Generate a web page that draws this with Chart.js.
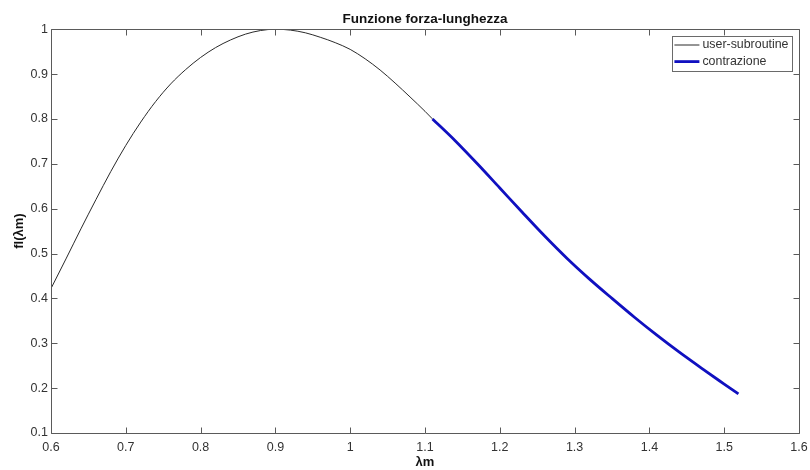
<!DOCTYPE html>
<html>
<head>
<meta charset="utf-8">
<title>Funzione forza-lunghezza</title>
<script src="https://cdn.jsdelivr.net/npm/chart.js@4.4.1/dist/chart.umd.min.js"></script>
<style>
  html, body { margin: 0; padding: 0; background: #fff; }
  #wrap { width: 810px; height: 470px; }
</style>
</head>
<body>
<div id="wrap"><canvas id="flChart" width="810" height="470"></canvas></div>
<script>
// curve
const lambdaUser = [0.60, 0.62, 0.64, 0.66, 0.68, 0.70, 0.72, 0.74, 0.76, 0.78, 0.80, 0.82, 0.84, 0.86, 0.88, 0.90,
                    0.92, 0.94, 0.96, 0.98, 1.00, 1.02, 1.04, 1.06, 1.08, 1.10, 1.11];
const flUser = [0.422, 0.488, 0.555, 0.620, 0.683, 0.741, 0.793, 0.839, 0.878, 0.910, 0.937, 0.959, 0.976, 0.989, 0.997, 1.000,
                0.998, 0.992, 0.982, 0.970, 0.955, 0.934, 0.909, 0.880, 0.849, 0.817, 0.800];

const lambdaContr = [1.11, 1.14, 1.17, 1.20, 1.23, 1.26, 1.29, 1.32, 1.35, 1.38, 1.41, 1.44, 1.47, 1.50, 1.519];
const flContr = [0.800, 0.752, 0.700, 0.646, 0.592, 0.539, 0.489, 0.443, 0.400, 0.358, 0.318, 0.280, 0.244, 0.209, 0.187];

const seriesLabels = ['user-subroutine', 'contrazione'];
const xTicks = [0.6, 0.7, 0.8, 0.9, 1.0, 1.1, 1.2, 1.3, 1.4, 1.5, 1.6];
const yTicks = [0.1, 0.2, 0.3, 0.4, 0.5, 0.6, 0.7, 0.8, 0.9, 1.0];

const FONT = "'Liberation Sans', Arial, Helvetica, sans-serif";
const AXIS_COLOR = '#5a5a5a';
const TEXT_COLOR = '#333333';

Chart.defaults.font.family = FONT;
Chart.defaults.color = TEXT_COLOR;

const toPoints = (xs, ys) => xs.map((x, i) => ({ x: x, y: ys[i] }));
const fmt = v => String(+Number(v).toFixed(1)); // 1.0 -> "1" like matlab

// box + inward ticks on all four sides
const matlabAxes = {
    id: 'matlabAxes',
    afterDatasetsDraw(chart) {
        const { ctx, chartArea: a, scales } = chart;
        const L = Math.round(a.left) + 0.5, R = Math.round(a.right) + 0.5;
        const T = Math.round(a.top) + 0.5, B = Math.round(a.bottom) + 0.5;
        const len = 6;
        ctx.save();
        ctx.strokeStyle = AXIS_COLOR;
        ctx.lineWidth = 1;
        ctx.beginPath();
        ctx.rect(L, T, R - L, B - T);
        xTicks.forEach(v => {
            const px = Math.round(scales.x.getPixelForValue(v)) + 0.5;
            ctx.moveTo(px, B); ctx.lineTo(px, B - len);
            ctx.moveTo(px, T); ctx.lineTo(px, T + len);
        });
        yTicks.forEach(v => {
            const py = Math.round(scales.y.getPixelForValue(v)) + 0.5;
            ctx.moveTo(L, py); ctx.lineTo(L + len, py);
            ctx.moveTo(R, py); ctx.lineTo(R - len, py);
        });
        ctx.stroke();
        ctx.restore();
    }
};

// legend box in the upper right corner of the plot
const cornerLegend = {
    id: 'cornerLegend',
    afterDraw(chart) {
        const { ctx, chartArea: a } = chart;
        const sets = chart.data.datasets;
        ctx.save();
        ctx.font = '12.4px ' + FONT;
        const textW = Math.max(...sets.map(d => ctx.measureText(d.label).width));
        const sample = 25, rowH = 16.6;
        const w = 2 + sample + 3 + textW + 4;
        const h = rowH * sets.length + 2;
        const right = a.right - 6.5, top = a.top + 6.5;
        const left = right - w;
        ctx.fillStyle = '#fff';
        ctx.fillRect(left, top, w, h);
        ctx.strokeStyle = '#6a6a6a';
        ctx.lineWidth = 1;
        ctx.strokeRect(Math.round(left) + 0.5, Math.round(top) + 0.5, Math.round(w), Math.round(h));
        sets.forEach((d, i) => {
            const cy = top + 1 + rowH * (i + 0.5);
            ctx.strokeStyle = d.borderColor;
            ctx.lineWidth = d.borderWidth;
            ctx.beginPath();
            ctx.moveTo(left + 2, cy);
            ctx.lineTo(left + 2 + sample, cy);
            ctx.stroke();
            ctx.fillStyle = TEXT_COLOR;
            ctx.textBaseline = 'middle';
            ctx.textAlign = 'left';
            ctx.fillText(d.label, left + 2 + sample + 3, cy);
        });
        ctx.restore();
    }
};

new Chart(document.getElementById('flChart'), {
    type: 'scatter',
    data: {
        datasets: [
            {
                label: seriesLabels[0],
                data: toPoints(lambdaUser, flUser),
                showLine: true,
                borderColor: '#2a2a2a',
                borderWidth: 1,
                pointRadius: 0,
                cubicInterpolationMode: 'monotone'
            },
            {
                label: seriesLabels[1],
                data: toPoints(lambdaContr, flContr),
                showLine: true,
                borderColor: '#1010c0',
                borderWidth: 2.8,
                pointRadius: 0,
                cubicInterpolationMode: 'monotone'
            }
        ]
    },
    options: {
        responsive: false,
        animation: false,
        layout: { padding: { top: 0, right: 11, bottom: 0, left: 0 } },
        plugins: {
            legend: { display: false },
            tooltip: { enabled: false },
            title: {
                display: true,
                text: 'Funzione forza-lunghezza',
                fullSize: false,
                color: '#111',
                font: { size: 13.5, weight: 'bold' },
                padding: { top: 11, bottom: 2 }
            }
        },
        scales: {
            x: {
                type: 'linear',
                min: 0.6,
                max: 1.6,
                afterBuildTicks: s => { s.ticks = xTicks.map(v => ({ value: v })); },
                afterFit: s => { s.height = 37; s.paddingLeft = 0; s.paddingRight = 0; },
                grid: { display: false, drawTicks: false },
                border: { display: false },
                ticks: { font: { size: 12.5 }, padding: 7, maxRotation: 0, autoSkip: false, callback: fmt },
                title: { display: true, text: 'λm', color: '#111', font: { size: 13, weight: 'bold' }, padding: { top: 2, bottom: 0 } }
            },
            y: {
                type: 'linear',
                min: 0.1,
                max: 1.0,
                afterBuildTicks: s => { s.ticks = yTicks.map(v => ({ value: v })); },
                afterFit: s => { s.width = 51; s.paddingTop = 0; s.paddingBottom = 0; },
                grid: { display: false, drawTicks: false },
                border: { display: false },
                ticks: { font: { size: 12.5 }, padding: 3, autoSkip: false, callback: fmt },
                title: { display: true, text: 'fl(λm)', color: '#111', font: { size: 13, weight: 'bold' }, padding: { top: 12, bottom: 0 } }
            }
        }
    },
    plugins: [matlabAxes, cornerLegend]
});
</script>
</body>
</html>
